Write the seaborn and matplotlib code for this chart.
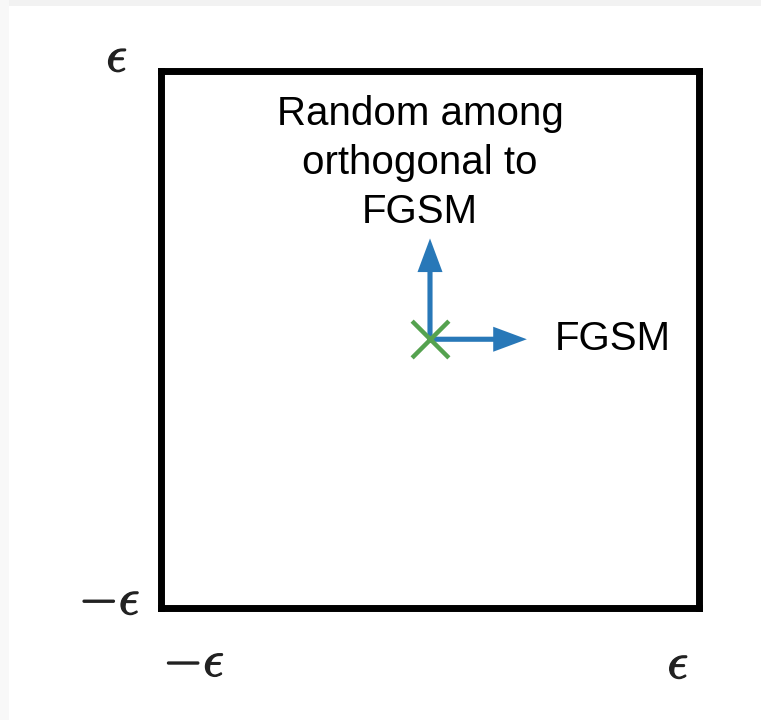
"""
Sketch of the FGSM / orthogonal direction inside an eps box
"""

import numpy as np
import pandas as pd
import seaborn as sns
import matplotlib
matplotlib.use('Agg')
import matplotlib.pyplot as plt
import matplotlib.patheffects as pe
from matplotlib.patches import Rectangle

# ============================================
# DATA
# ============================================
eps = 1.0
origin_x = [0.0]
origin_y = [0.0]
dir_names = ['FGSM', 'Random among\northogonal to\nFGSM']
dir_dx = [0.36, 0.0]
dir_dy = [0.0, 0.375]
tick_labels = [r'$-\epsilon$', r'$\epsilon$']

BLUE = '#2878b8'
GREEN = '#55a24f'

# ============================================
# STYLE
# ============================================
sns.set_theme(style='white')
plt.rcParams['font.family'] = ['Liberation Sans', 'DejaVu Sans']
plt.rcParams['mathtext.fontset'] = 'cm'

fig = plt.figure(figsize=(7.61, 7.2), dpi=100)
fig.patch.set_facecolor('white')
# thin grey page border (top / left)
fig.add_artist(Rectangle((0, 1 - 6 / 720), 1, 6 / 720, transform=fig.transFigure,
                         facecolor='#f2f2f2', edgecolor='none'))
fig.add_artist(Rectangle((0, 0), 9 / 761, 1, transform=fig.transFigure,
                         facecolor='#f8f8f8', edgecolor='none'))

ax = fig.add_axes([161 / 761, 1 - 608 / 720, 538 / 761, 537.5 / 720])
ax.set_xlim(-eps, eps)
ax.set_ylim(-eps, eps)
ax.set_xticks([])
ax.set_yticks([])
for s in ax.spines.values():
    s.set_color('black')
    s.set_linewidth(5)

# ============================================
# ARROWS + MARKER
# ============================================
for dx, dy in zip(dir_dx, dir_dy):
    ax.arrow(origin_x[0], origin_y[0], dx, dy, width=0.019, head_width=0.093,
             head_length=0.125, length_includes_head=True, color=BLUE, lw=0, zorder=2)

df = pd.DataFrame({'x': origin_x, 'y': origin_y})
sns.scatterplot(data=df, x='x', y='y', marker='x', s=700, color=GREEN,
                linewidth=3.2, ax=ax, zorder=3, legend=False)
ax.set_xlabel('')
ax.set_ylabel('')

# direction labels
ax.text(0.465, 0.0, dir_names[0], ha='left', va='center', fontsize=29, color='black')
ax.text(-0.037, 0.656, dir_names[1], ha='center', va='center', fontsize=29,
        color='black', linespacing=1.36)

# ============================================
# EPS LABELS
# ============================================
thick = [pe.withStroke(linewidth=0.9, foreground='#222222')]
eps_kw = dict(transform=ax.transAxes, va='center', fontsize=37, color='#222222', path_effects=thick)
ax.text(-0.082, 1.023, tick_labels[1], ha='center', **eps_kw)
ax.text(-0.039, 0.013, tick_labels[0], ha='right', **eps_kw)
ax.text(0.061, -0.102, tick_labels[0], ha='center', **eps_kw)
ax.text(0.961, -0.106, tick_labels[1], ha='center', **eps_kw)

plt.savefig('out.png', dpi=100, facecolor=fig.get_facecolor())
print('saved out.png')
